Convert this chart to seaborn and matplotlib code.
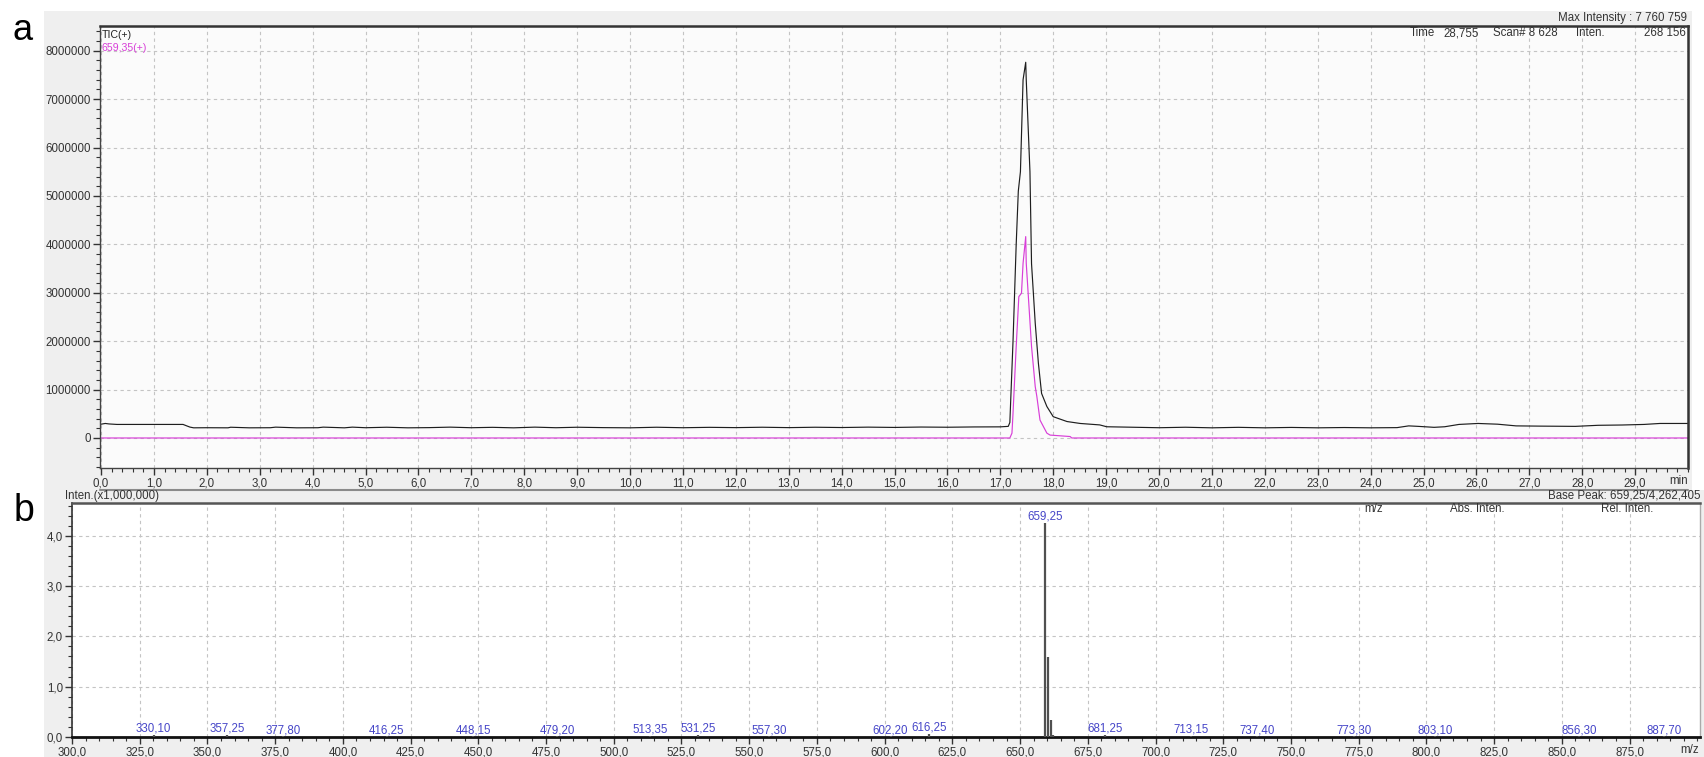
import numpy as np
import pandas as pd
import matplotlib
matplotlib.use("Agg")
import matplotlib.pyplot as plt
from matplotlib.ticker import MultipleLocator, FuncFormatter, FixedLocator
from matplotlib.patches import Rectangle
from matplotlib.lines import Line2D
import seaborn as sns

# ---------------- data ----------------
# TIC(+) chromatogram (time in min, intensity in counts)
tic_time = [0.00, 0.08, 0.15, 0.30, 0.80, 1.20, 1.55, 1.62, 1.68, 1.75, 2.00, 2.40, 2.45,
            2.80, 3.20, 3.30, 3.70, 4.10, 4.20, 4.60, 4.75, 5.00, 5.40, 5.80, 6.20, 6.60,
            7.00, 7.40, 7.80, 8.20, 8.60, 9.00, 9.50, 10.00, 10.50, 11.00, 11.50, 12.00,
            12.50, 13.00, 13.50, 14.00, 14.50, 15.00, 15.50, 16.00, 16.50, 17.00, 17.15,
            17.18, 17.24, 17.30, 17.34, 17.38, 17.43, 17.48, 17.49, 17.56, 17.59, 17.66,
            17.72, 17.78, 17.88, 18.00, 18.26, 18.51, 18.88, 19.01, 19.50, 20.00, 20.50,
            21.00, 21.50, 22.00, 22.50, 23.00, 23.50, 24.00, 24.50, 24.72, 24.90, 25.20,
            25.40, 25.67, 26.03, 26.40, 26.75, 27.20, 27.87, 28.30, 28.755, 29.17, 29.47,
            30.00]
tic_inten = [285000, 300000, 290000, 280000, 280000, 280000, 280000, 250000, 225000, 210000,
             212000, 210000, 222000, 210000, 212000, 224000, 210000, 212000, 224000, 210000,
             224000, 212000, 222000, 210000, 214000, 224000, 212000, 220000, 210000, 224000,
             212000, 222000, 214000, 210000, 222000, 212000, 220000, 214000, 222000, 214000,
             222000, 216000, 224000, 218000, 226000, 222000, 228000, 230000, 240000,
             320000, 2000000, 4000000, 5100000, 5500000, 7400000, 7760759, 7400000, 5500000,
             3600000, 2370000, 1540000, 920000, 650000, 440000, 340000, 300000, 270000,
             232000, 222000, 212000, 222000, 210000, 220000, 210000, 218000, 210000, 216000,
             210000, 214000, 250000, 240000, 220000, 232000, 280000, 300000, 285000, 250000,
             245000, 240000, 262000, 268156, 280000, 300000, 300000]

# 659,35(+) extracted ion chromatogram
eic_time = [0.00, 17.18, 17.22, 17.24, 17.30, 17.35, 17.40, 17.43, 17.48, 17.49, 17.53,
            17.59, 17.66, 17.69, 17.75, 17.88, 17.94, 18.32, 18.35, 30.00]
eic_inten = [0, 0, 100000, 510000, 1890000, 2920000, 2990000, 3610000, 4160000, 3610000,
             2920000, 1890000, 1060000, 860000, 370000, 100000, 60000, 30000, 0, 0]

# mass spectrum (m/z, intensity x1,000,000)
ms_mz = [330.10, 357.25, 377.80, 416.25, 448.15, 479.20, 513.35, 531.25, 557.30, 602.20,
         616.25, 659.25, 660.25, 661.25, 662.25, 681.25, 713.15, 737.40, 773.30, 803.10,
         856.30, 887.70]
ms_inten = [0.04, 0.04, 0.01, 0.01, 0.01, 0.01, 0.02, 0.04, 0.01, 0.01,
            0.06, 4.262405, 1.58, 0.34, 0.04, 0.04, 0.02, 0.01, 0.01, 0.01,
            0.01, 0.01]
ms_labels = ["330,10", "357,25", "377,80", "416,25", "448,15", "479,20", "513,35", "531,25",
             "557,30", "602,20", "616,25", "659,25", "", "", "", "681,25", "713,15", "737,40",
             "773,30", "803,10", "856,30", "887,70"]

tic_yticks = [0, 1000000, 2000000, 3000000, 4000000, 5000000, 6000000, 7000000, 8000000]
tic_xticks = list(range(0, 30))
ms_xticks = list(range(300, 900, 25))
ms_yticks = [0.0, 1.0, 2.0, 3.0, 4.0]

# ---------------- style ----------------
sns.set_style("ticks")
plt.rcParams['font.family'] = ['Liberation Sans', 'DejaVu Sans']
plt.rcParams['font.size'] = 8.3

W, H = 1704, 757
fig = plt.figure(figsize=(W / 100, H / 100), dpi=100)
fig.patch.set_facecolor("white")

def fx(px):
    return px / W

def fy(py):
    return 1 - py / H

GRAY_BG = "#efefef"
TXT = "#333333"
# grey panels (behind the axes)
fig.patches.append(Rectangle((fx(44), fy(490)), fx(1692) - fx(44), fy(11) - fy(490),
                             transform=fig.transFigure, facecolor=GRAY_BG, edgecolor="none",
                             zorder=-10))
fig.patches.append(Rectangle((fx(44), 0), 1 - fx(44), fy(490),
                             transform=fig.transFigure, facecolor=GRAY_BG, edgecolor="none",
                             zorder=-10))

comma1 = FuncFormatter(lambda v, p: f"{v:.1f}".replace(".", ","))

# ---------------- panel a ----------------
axa = fig.add_axes([fx(100), fy(468), fx(1688) - fx(100), fy(26) - fy(468)])
axa.set_zorder(2)
axa.set_facecolor("#fbfbfb")
df = pd.DataFrame({
    "time": tic_time + eic_time,
    "inten": tic_inten + eic_inten,
    "trace": ["TIC(+)"] * len(tic_time) + ["659,35(+)"] * len(eic_time),
})
sns.lineplot(data=df, x="time", y="inten", hue="trace", estimator=None, sort=True,
             palette={"TIC(+)": "#1e1e1e", "659,35(+)": "#d83ed8"}, legend=False,
             linewidth=0.85, ax=axa)
axa.set_xlim(-0.02, 30.0)
axa.set_ylim(-620000, 8510000)
axa.xaxis.set_major_locator(FixedLocator(tic_xticks))
axa.xaxis.set_minor_locator(MultipleLocator(0.2))
axa.xaxis.set_major_formatter(comma1)
axa.yaxis.set_major_locator(FixedLocator(tic_yticks))
axa.yaxis.set_minor_locator(MultipleLocator(200000))
axa.yaxis.set_major_formatter(FuncFormatter(lambda v, p: f"{int(round(v))}"))
axa.set_xlabel("")
axa.set_ylabel("")
axa.grid(True, which="major", color="#c4c4c4", linestyle=(0, (3, 3)), linewidth=0.8)
axa.tick_params(axis="both", which="major", direction="out", length=5, width=1,
                colors=TXT, labelsize=8.3, pad=1.5)
axa.tick_params(axis="both", which="minor", direction="out", length=3, width=0.8, colors=TXT)
for s in ["left", "bottom"]:
    axa.spines[s].set_color("#444444")
    axa.spines[s].set_linewidth(1.0)
for s in ["top", "right"]:
    axa.spines[s].set_visible(True)
    axa.spines[s].set_color("#333333")
    axa.spines[s].set_linewidth(1.8)

axa.text(0.001, 0.99, "TIC(+)", transform=axa.transAxes, ha="left", va="top",
         fontsize=7.6, color="#222222")
axa.text(0.001, 0.962, "659,35(+)", transform=axa.transAxes, ha="left", va="top",
         fontsize=7.6, color="#d83ed8")
fig.text(fx(1687), fy(18), "Max Intensity : 7 760 759", ha="right", va="center",
         fontsize=8.3, color=TXT)
for xx, s in [(1410, "Time"), (1443, "28,755"), (1493, "Scan# 8 628"), (1576, "Inten.")]:
    fig.text(fx(xx), fy(33), s, ha="left", va="center", fontsize=8.3, color=TXT, zorder=5)
fig.text(fx(1686), fy(33), "268 156", ha="right", va="center", fontsize=8.3, color=TXT, zorder=5)
fig.text(fx(1679), fy(481), "min", ha="center", va="center", fontsize=8.3, color=TXT)
fig.lines.append(Line2D([fx(100), fx(1688)], [fy(490), fy(490)], transform=fig.transFigure,
                        color="#8a8a8a", linewidth=1.5))

# ---------------- panel b ----------------
axb = fig.add_axes([fx(72), fy(737), fx(1700) - fx(72), fy(503) - fy(737)])
axb.set_zorder(2)
axb.set_facecolor("white")
axb.vlines(ms_mz, 0, ms_inten, colors="#505050", linewidth=1.6, zorder=3)
for m, v, lab in zip(ms_mz, ms_inten, ms_labels):
    if lab:
        axb.text(m, v, lab, ha="center", va="bottom", fontsize=8.3, color="#4646c8",
                 zorder=4)
axb.set_xlim(300, 901)
axb.set_ylim(0, 4.65)
axb.xaxis.set_major_locator(FixedLocator(ms_xticks))
axb.xaxis.set_minor_locator(MultipleLocator(5))
axb.xaxis.set_major_formatter(comma1)
axb.yaxis.set_major_locator(FixedLocator(ms_yticks))
axb.yaxis.set_minor_locator(MultipleLocator(0.2))
axb.yaxis.set_major_formatter(comma1)
axb.grid(True, which="major", color="#c4c4c4", linestyle=(0, (3, 3)), linewidth=0.8)
axb.tick_params(axis="both", which="major", direction="out", length=5, width=1,
                colors=TXT, labelsize=8.3, pad=1.5)
axb.tick_params(axis="both", which="minor", direction="out", length=3, width=0.8, colors=TXT)
axb.spines["bottom"].set_color("#111111")
axb.spines["bottom"].set_linewidth(2.0)
axb.spines["left"].set_color("#333333")
axb.spines["left"].set_linewidth(1.2)
axb.spines["top"].set_visible(True)
axb.spines["top"].set_color("#555555")
axb.spines["top"].set_linewidth(1.8)
axb.spines["right"].set_visible(True)
axb.spines["right"].set_color("#aaaaaa")
axb.spines["right"].set_linewidth(1.0)

fig.text(fx(65), fy(496), "Inten.(x1,000,000)", ha="left", va="center", fontsize=8.3, color=TXT)
fig.text(fx(1700), fy(495), "Base Peak: 659,25/4,262,405", ha="right", va="center",
         fontsize=8.3, color=TXT)
fig.text(fx(1374), fy(509), "m/z", ha="center", va="center", fontsize=8.3, color=TXT, zorder=5)
fig.text(fx(1477), fy(509), "Abs. Inten.", ha="center", va="center", fontsize=8.3, color=TXT, zorder=5)
fig.text(fx(1627), fy(509), "Rel. Inten.", ha="center", va="center", fontsize=8.3, color=TXT, zorder=5)
fig.text(fx(1690), fy(750), "m/z", ha="center", va="center", fontsize=8.3, color=TXT)

# panel letters
fig.text(fx(23), fy(31), "a", ha="center", va="center", fontsize=26, color="black")
fig.text(fx(24), fy(511), "b", ha="center", va="center", fontsize=27, color="black")

fig.savefig("out.png", dpi=100, facecolor=fig.get_facecolor())
